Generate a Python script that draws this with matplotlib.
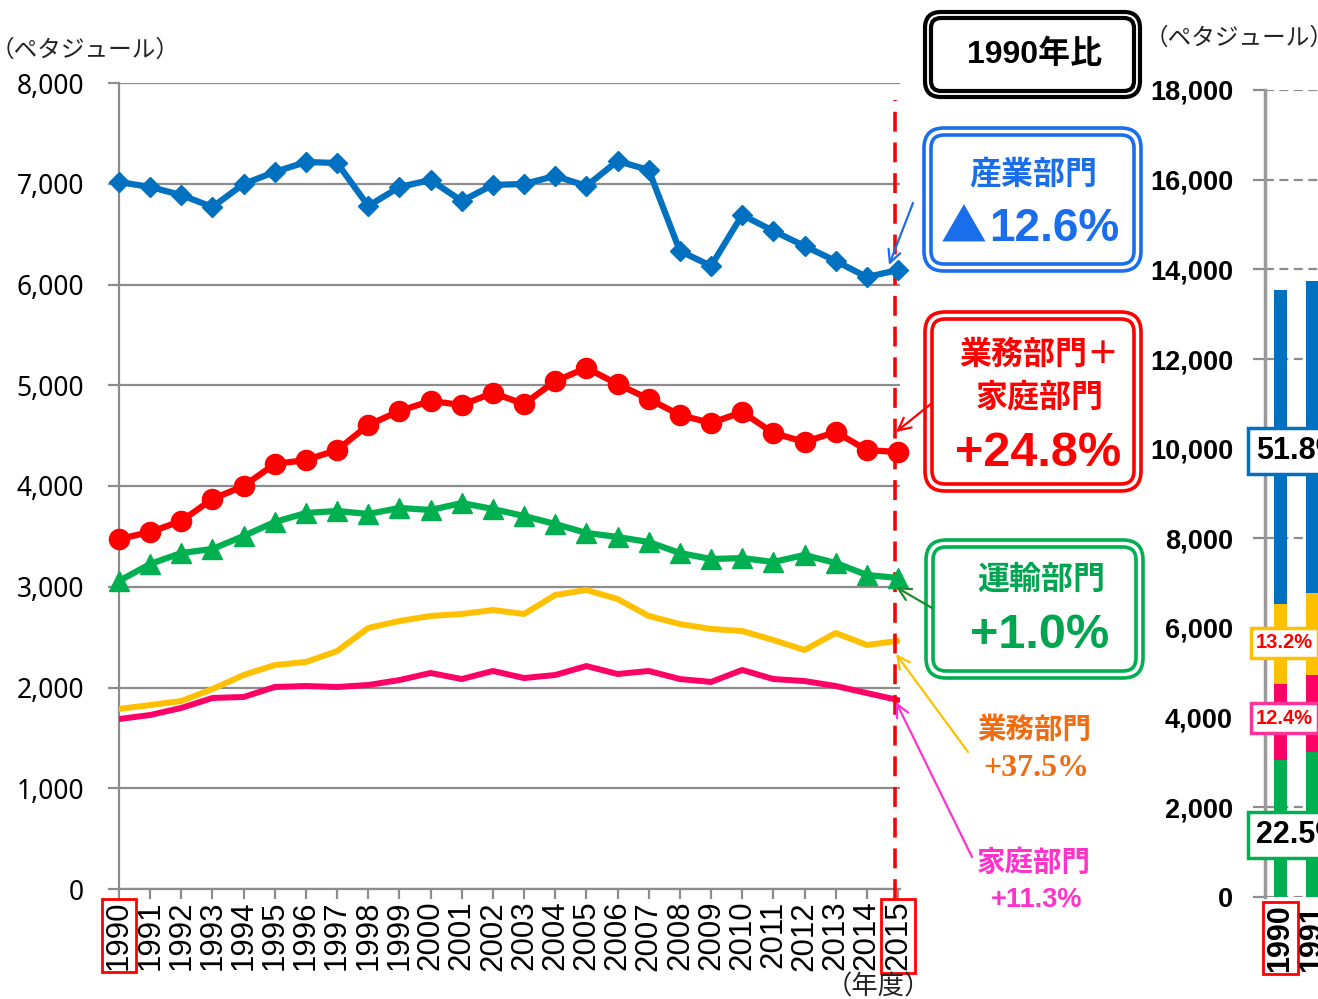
import matplotlib
matplotlib.use('Agg')
import matplotlib.pyplot as plt
from matplotlib.patches import FancyBboxPatch
import numpy as np

plt.rcParams['font.family'] = ['Liberation Sans', 'Noto Sans CJK JP']

# ---------------- data (ペタジュール) ----------------
years = list(range(1990, 2016))
industry = [7017, 6968, 6888, 6769, 6998, 7117, 7216, 7206, 6779, 6968,
            7037, 6829, 6988, 6998, 7077, 6978, 7226, 7136, 6333, 6184,
            6690, 6531, 6382, 6233, 6074, 6144]
comm_res = [3474, 3543, 3653, 3871, 4000, 4218, 4258, 4357, 4605, 4744,
            4844, 4804, 4923, 4814, 5042, 5171, 5012, 4864, 4705, 4625,
            4734, 4526, 4437, 4536, 4357, 4337]
transport = [3057, 3226, 3335, 3375, 3504, 3643, 3732, 3752, 3722, 3782,
             3762, 3831, 3772, 3702, 3623, 3534, 3494, 3444, 3335, 3275,
             3285, 3246, 3315, 3236, 3117, 3087]
business = [1787, 1826, 1866, 1985, 2124, 2223, 2253, 2362, 2591, 2660,
            2710, 2730, 2769, 2730, 2918, 2968, 2878, 2710, 2630, 2581,
            2561, 2471, 2372, 2541, 2422, 2462]
household = [1687, 1727, 1797, 1896, 1906, 2005, 2015, 2005, 2025, 2074,
             2144, 2084, 2164, 2094, 2124, 2213, 2134, 2164, 2084, 2055,
             2174, 2084, 2064, 2015, 1945, 1876]
left_yticks = [0, 1000, 2000, 3000, 4000, 5000, 6000, 7000, 8000]
right_yticks = [0, 2000, 4000, 6000, 8000, 10000, 12000, 14000, 16000, 18000]
share_labels = ['51.8%', '13.2%', '12.4%', '22.5%']

C_BLUE = '#0070C0'
C_RED = '#FF0000'
C_GREEN = '#00B050'
C_YELLOW = '#FFC000'
C_PINK = '#FF0066'
GRID = '#8C8C8C'

W, H = 1318, 999
fig = plt.figure(figsize=(W / 100, H / 100), dpi=100)


def px_rect(l, t, r, b):
    return [l / W, 1 - b / H, (r - l) / W, (b - t) / H]


# ---------------- left line chart ----------------
ax = fig.add_axes(px_rect(119, 83, 900, 889))

ax.plot(years, business, color=C_YELLOW, lw=4.3, zorder=3, solid_capstyle='round')
ax.plot(years, household, color=C_PINK, lw=4.3, zorder=3, solid_capstyle='round')
ax.plot(years, transport, color=C_GREEN, lw=4.5, marker='^', ms=15, zorder=5, clip_on=False)
ax.plot(years, comm_res, color=C_RED, lw=4.5, marker='o', ms=14.5, zorder=5, clip_on=False)
ax.plot(years, industry, color=C_BLUE, lw=4.5, marker='D', ms=10, zorder=5, clip_on=False)

ax.axvline(2014.9, ymin=-0.012, ymax=0.979, color='red', lw=2.6,
           ls=(0, (5.5, 3)), zorder=4, clip_on=False)

ax.set_yticks(left_yticks)
ax.set_yticklabels([f'{v:,}' for v in left_yticks], fontsize=19, family=['Noto Sans'])
ax.set_xticks(years)
ax.set_xticklabels([str(y) for y in years], rotation=90, fontsize=22.5)
ax.set_xlim(1990, 1990 + 781 / 31.16)
ax.set_ylim(0, 8000)
ax.tick_params(axis='y', length=8, width=1.6, color=GRID, pad=17)
ax.tick_params(axis='x', length=7, width=1.6, color=GRID, pad=1.5)
ax.yaxis.grid(True, color=GRID, lw=1.6)
ax.set_axisbelow(True)
for s in ['top', 'right']:
    ax.spines[s].set_visible(False)
for s in ['left', 'bottom']:
    ax.spines[s].set_color(GRID)
    ax.spines[s].set_linewidth(1.6)
xl = ax.get_xticklabels()
for i in (0, len(xl) - 1):
    xl[i].set_bbox(dict(facecolor='none', edgecolor='red', lw=2, pad=1.5))

# ---------------- right stacked bar chart (partly cut off) ----------------
ax2 = fig.add_axes(px_rect(1265, 90, 1665, 897))
step = 31.5
x0 = 1990 - 15.5 / step
bw = 13 / step
tr = np.array(transport)
hh = np.array(household)
bu = np.array(business)
ind = np.array(industry)
ax2.bar(years, tr, width=bw, color=C_GREEN, zorder=3)
ax2.bar(years, hh, width=bw, bottom=tr, color=C_PINK, zorder=3)
ax2.bar(years, bu, width=bw, bottom=tr + hh, color=C_YELLOW, zorder=3)
ax2.bar(years, ind, width=bw, bottom=tr + hh + bu, color=C_BLUE, zorder=3)
ax2.set_yticks(right_yticks)
ax2.set_yticklabels([f'{v:,}' for v in right_yticks], fontsize=19.5, weight='bold')
ax2.set_xticks(years)
ax2.set_xticklabels([str(y) for y in years], rotation=90, fontsize=22, weight='bold')
ax2.set_xlim(x0, x0 + 400 / step)
ax2.set_ylim(0, 18000)
ax2.tick_params(axis='y', length=9, width=1.6, color=GRID, pad=14)
ax2.tick_params(axis='x', length=0, pad=5)
ax2.yaxis.grid(True, color=GRID, lw=1.6, ls=(0, (4, 2.5)))
ax2.set_axisbelow(True)
for s in ['top', 'right', 'bottom']:
    ax2.spines[s].set_visible(False)
ax2.spines['left'].set_color('#9A9A9A')
ax2.spines['left'].set_linewidth(2.5)
ax2.get_xticklabels()[0].set_bbox(dict(facecolor='none', edgecolor='red', lw=2, pad=1.5))

# ---------------- overlay for annotations ----------------
ov = fig.add_axes([0, 0, 1, 1], zorder=10)
ov.set_xlim(0, W)
ov.set_ylim(H, 0)
ov.axis('off')
ov.patch.set_alpha(0)

JP = ['Noto Sans CJK JP']
MIX = ['Liberation Sans', 'Noto Sans CJK JP']


def double_box(l, t, r, b, color, gap=7, rs=20, lw=2.6):
    ov.add_patch(FancyBboxPatch((l, t), r - l, b - t,
                                boxstyle=f'round,pad=0,rounding_size={rs}',
                                fc='white', ec=color, lw=lw))
    ov.add_patch(FancyBboxPatch((l + gap, t + gap), r - l - 2 * gap, b - t - 2 * gap,
                                boxstyle=f'round,pad=0,rounding_size={rs - gap}',
                                fc='none', ec=color, lw=lw))


double_box(925, 12, 1140, 97, 'black', gap=6, rs=16, lw=3)
ov.text(1035, 55, '1990年比', ha='center', va='center', fontsize=23,
        weight='bold', family=MIX, color='black')

BOX_BLUE = '#1A6EEB'
double_box(924, 128, 1141, 271, BOX_BLUE)
ov.text(1033, 174, '産業部門', ha='center', va='center', fontsize=23,
        weight='bold', family=JP, color=BOX_BLUE)
ov.text(964, 229, '▲', ha='center', va='center', fontsize=33,
        family=JP, color=BOX_BLUE)
ov.text(989, 229, '12.6%', ha='left', va='center', fontsize=33,
        weight='bold', family=MIX, color=BOX_BLUE)

double_box(925, 312, 1141, 491, C_RED)
ov.text(1039, 355, '業務部門＋', ha='center', va='center', fontsize=23,
        weight='bold', family=JP, color=C_RED)
ov.text(1040, 397, '家庭部門', ha='center', va='center', fontsize=23,
        weight='bold', family=JP, color=C_RED)
ov.text(1038, 453, '+24.8%', ha='center', va='center', fontsize=35,
        weight='bold', family=MIX, color=C_RED)

double_box(926, 540, 1143, 678, C_GREEN)
ov.text(1041, 580, '運輸部門', ha='center', va='center', fontsize=23,
        weight='bold', family=JP, color='#00A550')
ov.text(1040, 636, '+1.0%', ha='center', va='center', fontsize=35,
        weight='bold', family=MIX, color='#00A550')

ORANGE = '#F26B0F'
ov.text(1034, 730, '業務部門', ha='center', va='center', fontsize=20.5,
        weight='bold', family=JP, color=ORANGE)
ov.text(1036, 768, '+37.5%', ha='center', va='center', fontsize=23,
        weight='bold', family=['Liberation Serif'], color=ORANGE)
PINKT = '#FF33CC'
ov.text(1034, 863, '家庭部門', ha='center', va='center', fontsize=20.5,
        weight='bold', family=JP, color=PINKT)
ov.text(1037, 900, '+11.3%', ha='center', va='center', fontsize=19.5,
        weight='bold', family=MIX, color=PINKT)

arrows = [((913, 203), (889, 265), '#1A6EEB'),
          ((932, 403), (896, 432), C_RED),
          ((932, 608), (896, 587), '#1E8C2E'),
          ((968, 752), (896, 654), C_YELLOW),
          ((972, 857), (896, 702), PINKT)]
for tail, tip, col in arrows:
    ov.annotate('', xy=tip, xytext=tail,
                arrowprops=dict(arrowstyle='->,head_length=0.9,head_width=0.45',
                                color=col, lw=1.6, shrinkA=0, shrinkB=0))

ov.text(-9, 50, '（ペタジュール）', ha='left', va='center', fontsize=17,
        family=JP, color='#222222')
ov.text(1145, 38, '（ペタジュール）', ha='left', va='center', fontsize=17,
        family=JP, color='#222222')
ov.text(878, 987, '（年度）', ha='center', va='center', fontsize=19,
        family=JP, color='#222222')

# percentage share labels on the cut-off bar chart
share_specs = [(451, C_BLUE, 'black', 22), (643, C_YELLOW, 'red', 14.5),
               (718, '#FF3399', 'red', 14.5), (835, C_GREEN, 'black', 22)]
for lab, (yc, ec, tc, fs) in zip(share_labels, share_specs):
    ov.text(1256, yc, lab, ha='left', va='center', fontsize=fs, weight='bold',
            color=tc, bbox=dict(boxstyle='square,pad=0.25', fc='white', ec=ec, lw=2.5))

fig.savefig('out.png', dpi=100)
